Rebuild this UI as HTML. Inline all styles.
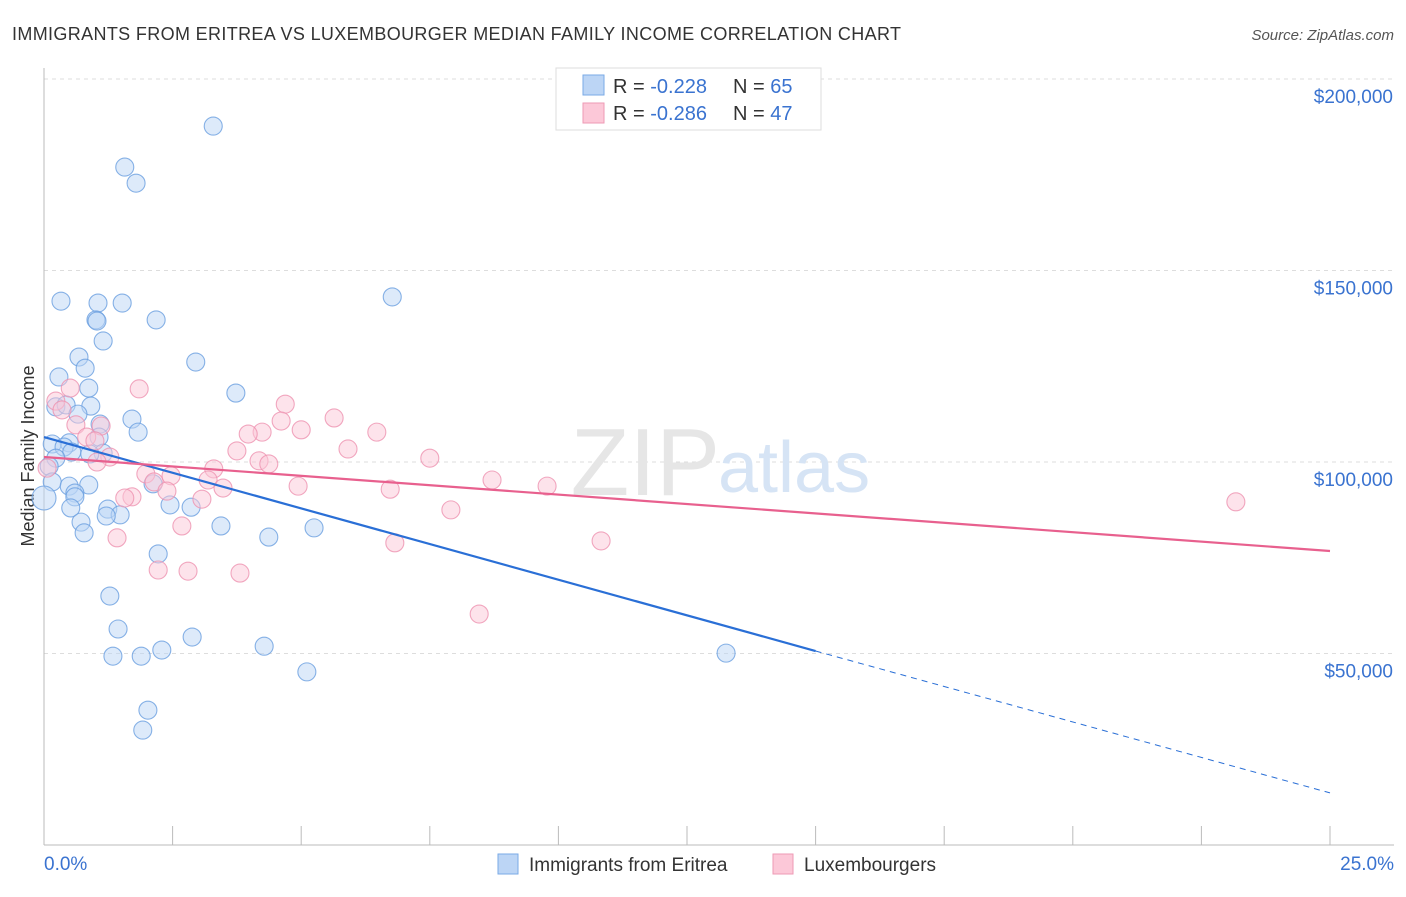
<!DOCTYPE html>
<html><head><meta charset="utf-8">
<style>
body{margin:0;background:#fff;font-family:"Liberation Sans",sans-serif;}
svg text{font-family:"Liberation Sans",sans-serif;}
</style></head>
<body>
<svg id="chart" width="1406" height="892" viewBox="0 0 1406 892" xmlns="http://www.w3.org/2000/svg">
<text x="12" y="40" font-size="18" fill="#333" textLength="889">IMMIGRANTS FROM ERITREA VS LUXEMBOURGER MEDIAN FAMILY INCOME CORRELATION CHART</text>
<text x="1394" y="40" font-size="15" fill="#555" font-style="italic" text-anchor="end">Source: ZipAtlas.com</text>
<text x="34" y="456" font-size="18" fill="#333" text-anchor="middle" transform="rotate(-90 34 456)">Median Family Income</text>
<g id="grid"></g>
<text x="720" y="495" font-size="96" fill="#e6e6e6" text-anchor="end" font-family="Liberation Serif">ZIP</text>
<text x="718" y="492" font-size="72" fill="#d6e4f5">atlas</text>
<g id="axes"></g>
<g id="pts"></g>
<g id="lines"></g>
<g>
<rect x="556" y="68" width="265" height="62" fill="#fff" stroke="#ddd"/>
<rect x="583" y="75" width="21" height="20" fill="#bcd5f5" stroke="#7aaae6"/>
<rect x="583" y="103" width="21" height="20" fill="#fcc8d8" stroke="#ee9ab4"/>
<text x="613" y="93" font-size="20" fill="#333">R = <tspan fill="#3a73d0">-0.228</tspan><tspan x="733">N = </tspan><tspan fill="#3a73d0">65</tspan></text>
<text x="613" y="120" font-size="20" fill="#333">R = <tspan fill="#3a73d0">-0.286</tspan><tspan x="733">N = </tspan><tspan fill="#3a73d0">47</tspan></text>
</g>
<g>
<rect x="498" y="854" width="20" height="20" fill="#bcd5f5" stroke="#7aaae6"/>
<text x="529" y="871" font-size="19" fill="#333">Immigrants from Eritrea</text>
<rect x="773" y="854" width="20" height="20" fill="#fcc8d8" stroke="#ee9ab4"/>
<text x="804" y="871" font-size="19" fill="#333">Luxembourgers</text>
</g>
</svg>
<script>
const yTicks=[50000,100000,150000,200000];
const yTickLabels=["$50,000","$100,000","$150,000","$200,000"];
const xTickLabels=["0.0%","25.0%"];
const blueX=[3.29,1.57,1.79,0.33,1.05,1.52,1.01,1.03,2.18,6.77,1.15,0.68,2.95,0.80,0.29,0.87,3.73,0.91,0.23,0.43,0.66,1.71,1.09,1.83,1.07,0.49,0.16,0.39,0.54,1.15,0.89,0.23,0.10,0.16,0.87,0.49,2.12,0.60,0.60,0,0.52,2.45,2.86,1.24,1.48,1.21,0.72,3.44,5.25,0.78,4.37,2.22,1.28,1.44,2.88,1.34,1.89,2.29,4.28,13.26,5.11,2.02,1.92];
const blueY=[187700,177000,172800,142000,141500,141500,137100,136800,137100,143100,131600,127400,126100,124500,122200,119300,118000,114600,114400,114900,112500,111200,109900,107800,106500,105000,104700,103900,102600,102300,102100,101000,98900,94800,94000,93700,94300,91900,90900,90600,88000,88800,88200,87700,86200,85900,84300,83300,82800,81500,80400,76000,65000,56400,54300,49300,49300,50900,51900,50100,45200,35200,30000];
const pinkX=[1.85,0.51,0.23,0.35,4.69,5.64,4.61,1.11,0.62,4.24,5.00,3.97,6.47,0.83,0.99,3.75,5.91,1.28,1.03,4.18,4.37,7.50,0.06,3.30,1.98,2.47,3.19,8.71,2.14,4.94,9.78,3.48,6.73,2.39,1.71,1.57,3.07,7.91,23.17,2.68,1.42,6.82,10.83,2.22,2.80,3.81,8.46];
const pinkY=[119100,119300,115900,113600,115100,111500,110700,109400,109700,107800,108400,107300,107800,106500,105500,102900,103400,101300,100000,100300,99500,101000,98400,98200,96900,96400,95300,95300,94800,93700,93700,93200,92900,92400,90900,90600,90300,87500,89600,83300,80200,78900,79400,71800,71500,71000,60300];
const blueTrend=[106500,50650,13600];
const blueTrendX=[0,15,25];
const pinkTrend=[101300,76760];
const pinkTrendX=[0,25];

const NS="http://www.w3.org/2000/svg";
const X0=44,X1=1330,Y0=845,YTOP=79;
function sx(v){return X0+(X1-X0)*v/25;}
function sy(v){return Y0-(Y0-YTOP)*v/200000;}
function mk(tag,attrs,parent){const e=document.createElementNS(NS,tag);for(const k in attrs)e.setAttribute(k,attrs[k]);parent.appendChild(e);return e;}
const grid=document.getElementById('grid'),axes=document.getElementById('axes'),pts=document.getElementById('pts'),lines=document.getElementById('lines');
yTicks.forEach((t,i)=>{
  const l=mk('line',{x1:X0,x2:1394,y1:sy(t),y2:sy(t),stroke:'#ddd','stroke-dasharray':'4,4'},grid);
  
  
  const tx=mk('text',{x:1393,y:sy(t)+24,'font-size':19,fill:'#3a73d0','text-anchor':'end'},axes);
  tx.textContent=yTickLabels[i];
  
  
});
const ax=mk('line',{x1:X0,x2:X0,y1:68,y2:Y0,stroke:'#bbb'},axes);


const bx=mk('line',{x1:X0,x2:1394,y1:Y0,y2:Y0,stroke:'#bbb'},axes);


for(let i=0;i<=10;i++){
  const t=mk('line',{x1:sx(i*2.5),x2:sx(i*2.5),y1:826,y2:Y0,stroke:'#bbb'},axes);
  
  
}
const xl0=mk('text',{x:44,y:870,'font-size':19,fill:'#3a73d0'},axes);xl0.textContent=xTickLabels[0];


const xl1=mk('text',{x:1394,y:870,'font-size':19,fill:'#3a73d0','text-anchor':'end'},axes);xl1.textContent=xTickLabels[1];


function dots(xs,ys,fill,stroke,name){
  xs.forEach((x,i)=>{
    const r=(x===0)?12:9;
    const c=mk('circle',{cx:sx(x),cy:sy(ys[i]),r:r,fill:fill,'fill-opacity':0.5,stroke:stroke,'stroke-opacity':0.8,'stroke-width':1.1},pts);
    
    
  });
}
dots(blueX,blueY,'#bcd5f5','#6a9fe0','point-eritrea');
dots(pinkX,pinkY,'#fcc8d8','#ee92b0','point-luxembourger');
const b1=mk('line',{x1:sx(blueTrendX[0]),y1:sy(blueTrend[0]),x2:sx(blueTrendX[1]),y2:sy(blueTrend[1]),stroke:'#2a6fd6','stroke-width':2.2},lines);


const b2=mk('line',{x1:sx(blueTrendX[1]),y1:sy(blueTrend[1]),x2:sx(blueTrendX[2]),y2:sy(blueTrend[2]),stroke:'#2a6fd6','stroke-width':1,'stroke-dasharray':'6,5'},lines);


const p1=mk('line',{x1:sx(pinkTrendX[0]),y1:sy(pinkTrend[0]),x2:sx(pinkTrendX[1]),y2:sy(pinkTrend[1]),stroke:'#e8608e','stroke-width':2.2},lines);


</script>
</body></html>
